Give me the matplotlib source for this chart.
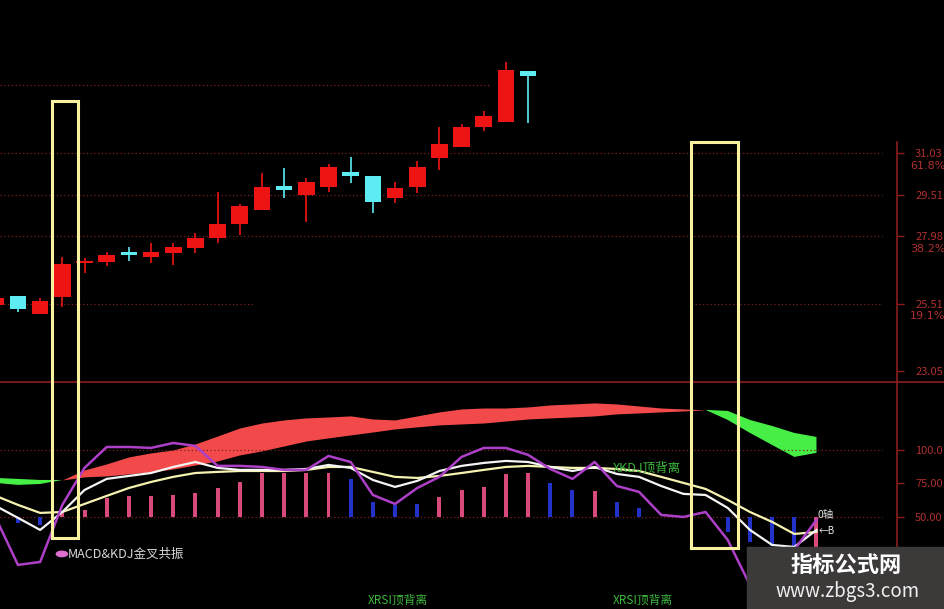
### Importa bibliotecas ###
import numpy as np
import matplotlib.pyplot as plt
from matplotlib.patches import Rectangle, Ellipse
from matplotlib.lines import Line2D
from matplotlib.transforms import blended_transform_factory

plt.rcParams['font.family'] = ['Noto Sans CJK SC', 'DejaVu Sans']

### K线数据 (序号 -1 .. 23) ###
k_idx = np.arange(-1, 24)
k_open = [25.47, 25.80, 25.14, 25.76, 27.00, 27.04, 27.41, 27.22, 27.37, 27.55, 27.92, 28.43, 28.94,
          29.82, 29.49, 29.79, 30.33, 30.19, 29.38, 29.79, 30.85, 31.25, 31.98, 32.16, 34.03]
k_close = [25.72, 25.32, 25.61, 26.97, 27.08, 27.30, 27.30, 27.41, 27.59, 27.92, 28.43, 29.09, 29.79,
           29.68, 29.97, 30.52, 30.19, 29.24, 29.75, 30.52, 31.36, 31.98, 32.38, 34.07, 33.85]
k_high = [25.76, 25.80, 25.72, 27.22, 27.19, 27.41, 27.59, 27.74, 27.74, 28.10, 29.60, 29.16, 30.30,
          30.48, 30.11, 30.63, 30.88, 30.19, 29.97, 30.74, 31.98, 32.09, 32.57, 34.36, 34.03]
k_low = [25.43, 25.21, 25.14, 25.39, 26.64, 26.89, 27.08, 27.00, 26.93, 27.37, 27.74, 28.03, 28.94,
         29.38, 28.50, 29.60, 29.93, 28.83, 29.20, 29.57, 30.41, 31.25, 31.84, 32.16, 32.13]

### 指标数据 (序号 -1 .. 36) ###
ind_idx = np.arange(-1, 37)
rib_fast = [75.4, 73.9, 74.6, 77.6, 85.1, 89.6, 94.8, 97.8, 100.0, 104.5, 110.4, 116.4, 120.1, 122.4,
            123.9, 124.6, 125.4, 123.1, 122.4, 125.4, 128.4, 130.6, 131.3, 131.3, 132.1, 133.6, 134.3,
            135.1, 134.3, 132.8, 131.3, 130.6, 129.9, 122.4, 112.7, 103.7, 94.8, 97.8]
rib_slow = [79.1, 78.4, 77.6, 77.6, 79.9, 80.6, 82.1, 83.6, 85.8, 88.8, 91.8, 96.3, 99.3, 103.0,
            106.7, 109.0, 111.2, 113.4, 115.7, 117.2, 118.7, 119.4, 120.1, 121.6, 123.1, 123.9, 124.6,
            125.4, 126.9, 127.6, 128.4, 129.1, 129.9, 129.1, 122.4, 117.9, 112.7, 109.7]
k_line = [58.2, 49.3, 40.3, 53.7, 70.1, 78.4, 80.6, 82.8, 87.3, 91.0, 86.6, 85.1, 85.1, 85.1, 85.8,
          88.8, 86.6, 77.6, 72.4, 76.9, 84.3, 88.1, 90.3, 91.8, 91.0, 87.3, 84.3, 87.3, 82.1, 79.9,
          73.1, 67.2, 66.4, 56.7, 40.3, 29.1, 27.6, 40.3]
d_line = [65.7, 59.0, 53.0, 53.7, 59.7, 65.7, 71.6, 76.1, 79.9, 82.8, 83.6, 84.3, 84.3, 84.3, 85.1,
          87.3, 87.3, 83.6, 79.9, 79.1, 80.6, 82.8, 85.1, 87.3, 88.1, 87.3, 86.6, 86.6, 85.8, 84.3,
          79.9, 75.4, 70.9, 62.7, 53.7, 46.3, 37.3, 38.8]
j_line = [49.3, 14.2, 16.4, 59.0, 86.6, 102.2, 102.2, 101.5, 105.2, 103.0, 88.1, 88.1, 87.3, 85.1,
          85.1, 95.5, 91.0, 66.4, 59.7, 71.6, 79.9, 94.8, 101.5, 101.5, 96.3, 85.8, 78.4, 91.0, 73.1,
          68.7, 51.5, 50.0, 53.7, 32.8, -0.8, -15.7, 25.4, 47.8]
bar_val = [50, 45.5, 44.0, 53.0, 55.2, 64.2, 65.7, 65.7, 66.4, 67.9, 71.6, 76.1, 82.8, 82.8, 82.8,
           82.8, 78.4, 61.2, 59.0, 59.7, 64.9, 70.1, 72.4, 82.1, 82.8, 75.4, 70.1, 69.4, 61.2, 56.7,
           50, 50, 50, 38.8, 31.3, 28.4, 28.4, 27.6]
bar_kind = ['p', 'b', 'b'] + ['p'] * 13 + ['b'] * 4 + ['p'] * 5 + ['b', 'b', 'p'] + ['b'] * 9 + ['p']

### 坐标轴标签 ###
price_ticks = [31.03, 29.51, 27.98, 25.51, 23.05]
price_tick_labels = ['31.03', '29.51', '27.98', '25.51', '23.05']
price_pct = [(31.03, '61.8%'), (27.98, '38.2%'), (25.51, '19.1%')]
ind_ticks = [100, 75, 50]
ind_tick_labels = ['100.0', '75.00', '50.00']

### 颜色 ###
c_red = '#ee1414'
c_cyan = '#5cecf2'
axis_red = '#8c1c1c'
label_red = '#b03030'
grid_red = '#7a2020'
bar_colors = {'p': '#d84a7c', 'b': '#2232c8'}

### 图形 ###
fig = plt.figure(figsize=(9.45, 6.09), dpi=100, facecolor='black')
ax1 = fig.add_axes([0, 227 / 609, 897 / 945, 382 / 609])
ax2 = fig.add_axes([0, 0, 897 / 945, 227 / 609])
for ax in (ax1, ax2):
    ax.set_facecolor('black')
    ax.set_xlim(-0.81, 39.63)
    for s in ['top', 'left', 'bottom']:
        ax.spines[s].set_visible(False)
    ax.spines['right'].set_color(axis_red)
    ax.spines['right'].set_linewidth(1.2)
    ax.tick_params(axis='x', bottom=False, labelbottom=False)
    ax.yaxis.tick_right()
    ax.tick_params(axis='y', direction='out', length=5, width=1, color=axis_red,
                   labelcolor=label_red, labelsize=8, pad=8)
ax1.set_ylim(22.65, 36.63)
ax2.set_ylim(-18.7, 150.7)
ax1.spines['right'].set_bounds(22.65, 31.43)
ax1.set_yticks(price_ticks, price_tick_labels)
ax2.set_yticks(ind_ticks, ind_tick_labels)

for p, t in price_pct:
    ax1.text(910 / 897, p - 0.46, t, transform=ax1.get_yaxis_transform(), color=label_red,
             fontsize=8, va='center', ha='left', clip_on=False, family='DejaVu Sans')

### 网格 (点线) ###
dots = (0, (1, 2))
ax1.axhline(33.52, xmax=490 / 897, color=grid_red, ls=dots, lw=0.9)
for y in [31.03, 29.51, 27.98]:
    ax1.axhline(y, xmax=882 / 897, color=grid_red, ls=dots, lw=0.9)
ax1.axhline(25.51, xmax=255 / 897, color=grid_red, ls=dots, lw=0.9)
ax1.axhline(25.51, xmin=695 / 897, xmax=882 / 897, color=grid_red, ls=dots, lw=0.9)
for y in [100, 50]:
    ax2.axhline(y, xmax=882 / 897, color=grid_red, ls=dots, lw=0.9)

### K线 ###
for i, o, h, l, c in zip(k_idx, k_open, k_high, k_low, k_close):
    col = c_red if c >= o else c_cyan
    ax1.vlines(i, l, h, color=col, lw=1.2, zorder=2)
    ax1.bar(i, max(abs(c - o), 0.07), bottom=min(o, c), width=0.75, color=col, zorder=3)

### 指标 ###
fast = np.array(rib_fast)
slow = np.array(rib_slow)
ax2.fill_between(ind_idx, fast, slow, where=fast >= slow, interpolate=True, color='#f24a4a', lw=0, zorder=1)
ax2.fill_between(ind_idx, fast, slow, where=fast <= slow, interpolate=True, color='#46ee46', lw=0, zorder=1)

ax2.bar(ind_idx, np.array(bar_val) - 50, bottom=50, width=0.18,
        color=[bar_colors[k] for k in bar_kind], zorder=2)

ax2.plot(ind_idx, d_line, color='#f6f2b0', lw=1.6, zorder=3)
ax2.plot(ind_idx, k_line, color='#f4f4f4', lw=1.6, zorder=4)
ax2.plot(ind_idx, j_line, color='#ad3fc8', lw=1.8, zorder=5)

### 文字 ###
ax2.add_patch(Ellipse((1.98, 22.4), 0.5, 4.0, color='#e070d0', zorder=6))
ax2.text(2.25, 22.4, 'MACD&KDJ金叉共振', color='#d8d8d8', fontsize=9, va='center', ha='left', zorder=6)
ax2.text(26.83, 86.6, 'XKDJ顶背离', color='#3cb83c', fontsize=9, va='center', ha='left', zorder=6)
for x in [15.78, 26.83]:
    ax2.text(x, -12.0, 'XRSI顶背离', color='#3cb83c', fontsize=8.5, va='center', ha='left',
             clip_on=False, zorder=6)
ax2.text(36.05, 51.5, '0轴', color='#e8e8e8', fontsize=7.5, va='center', ha='left', zorder=6)
ax2.text(36.1, 39.5, '←B', color='#e8e8e8', fontsize=7, va='center', ha='left', zorder=6)

### 分隔线 ###
fig.add_artist(Line2D([0, 1], [227 / 609, 227 / 609], color=axis_red, lw=1.2))

### 黄色框 ###
trans = blended_transform_factory(ax1.transData, fig.transFigure)
for x0, x1, y0, y1 in [(1.55, 2.70, 71, 508), (30.35, 32.45, 61, 467)]:
    fig.add_artist(Rectangle((x0, y0 / 609), x1 - x0, (y1 - y0) / 609, transform=trans,
                             fill=False, ec='#f8f2a0', lw=2.2, zorder=4))

### 水印 ###
fig.add_artist(Rectangle((747 / 945, 0), 198 / 945, 62 / 609, transform=fig.transFigure,
                         color='#3c3939', zorder=5))
fig.text(846 / 945, 1 - 565 / 609, '指标公式网', fontsize=16, weight='bold', color='white',
         ha='center', va='center', zorder=6)
fig.text(848 / 945, 1 - 591 / 609, 'www.zbgs3.com', fontsize=13.5, color='#f0f0f0',
         ha='center', va='center', zorder=6)

fig.savefig('out.png', dpi=100, facecolor='black')
